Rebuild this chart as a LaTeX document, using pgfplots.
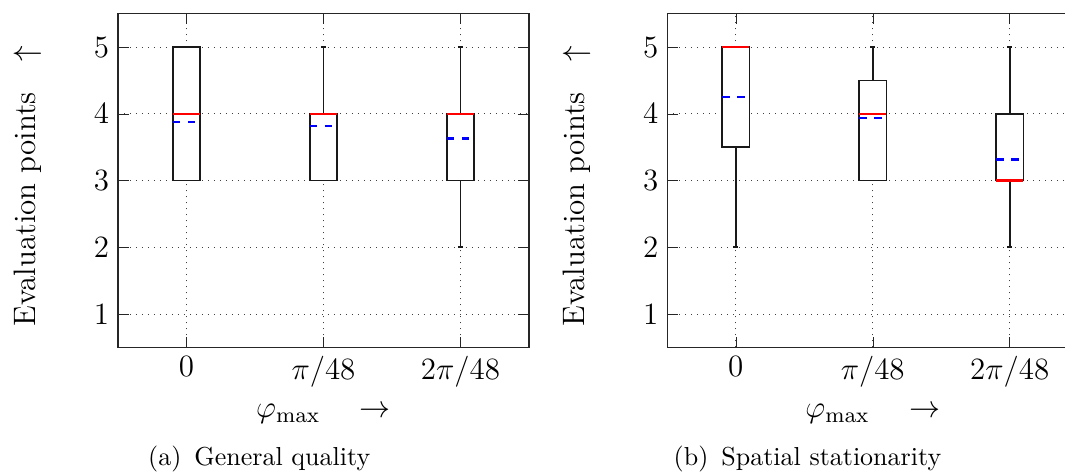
\RequirePackage{fix-cm}
\documentclass[border=0pt]{standalone}
\usepackage{pgfplots}
\pgfplotsset{compat=1.18}
\usepgfplotslibrary{statistics}
\newcommand{\tfont}{\fontsize{12.4}{15}\selectfont}
\newcommand{\cfont}{\fontsize{10.4}{12.5}\selectfont}
\pgfplotsset{
  myaxis/.style={
    scale only axis, width=164.4pt, height=133.5pt,
    xmin=-0.5, xmax=2.5, ymin=0.5, ymax=5.5,
    xtick={0,1,2}, xticklabels={$0$,$\pi/48$,$2\pi/48$},
    ytick={1,2,3,4,5},
    grid=major, grid style={dotted, black!75, line width=0.4pt},
    tick label style={font=\tfont},
    xlabel style={font=\tfont},
    xlabel={$\varphi_{\max}\quad\rightarrow$},
    ylabel={Evaluation points\quad$\uparrow$},
    every axis y label/.style={at={(axis description cs:-0.2207,0.4838)}, rotate=90, anchor=center, font=\tfont},
    axis line style={line width=0.55pt, black!85},
    major tick style={black!85},
    boxplot/draw direction=y,
    boxplot/box extend=0.2,
    boxplot/whisker extend=0.04,
    boxplot/every box/.style={fill=white},
    boxplot/every median/.style={red, line width=1pt},
    boxplot/draw/average/.code={%
      \draw[blue, dash pattern=on 3pt off 3pt, line width=1pt]
        \pgfextra
        \pgfpathmoveto{\pgfplotsboxplotpointabbox{\pgfplotsboxplotvalue{average}}{0}}%
        \pgfpathlineto{\pgfplotsboxplotpointabbox{\pgfplotsboxplotvalue{average}}{1}}%
        \endpgfextra;
    },
  },
  bp/.style={black!90, solid, line width=0.7pt, mark=none, boxplot prepared={#1}},
}
\begin{document}
\begin{tikzpicture}
\begin{axis}[myaxis, at={(0pt,0pt)}, anchor=south west]
  \addplot[bp={draw position=0, lower whisker=3, lower quartile=3, median=4, upper quartile=5, upper whisker=5, average=3.875}] coordinates {};
  \addplot[bp={draw position=1, lower whisker=3, lower quartile=3, median=4, upper quartile=4, upper whisker=5, average=3.815}] coordinates {};
  \addplot[bp={draw position=2, lower whisker=2, lower quartile=3, median=4, upper quartile=4, upper whisker=5, average=3.63}] coordinates {};
\end{axis}
\begin{axis}[myaxis, at={(219.7pt,0pt)}, anchor=south west]
  \addplot[bp={draw position=0, lower whisker=2, lower quartile=3.5, median=5, upper quartile=5, upper whisker=5, average=4.25}] coordinates {};
  \addplot[bp={draw position=1, lower whisker=3, lower quartile=3, median=4, upper quartile=4.5, upper whisker=5, average=3.935}] coordinates {};
  \addplot[bp={draw position=2, lower whisker=2, lower quartile=3, median=3, upper quartile=4, upper whisker=5, average=3.32}] coordinates {};
\end{axis}
\node[anchor=base, font=\cfont, inner sep=0pt] at (56.5pt,-47.4pt) {(a)\enspace General quality};
\node[anchor=base, font=\cfont, inner sep=0pt] at (275.8pt,-47.4pt) {(b)\enspace Spatial stationarity};
\pgfresetboundingbox
\path[use as bounding box] (-47.2pt,-50.6pt) rectangle (378.8pt,139.0pt);
\end{tikzpicture}
\end{document}
